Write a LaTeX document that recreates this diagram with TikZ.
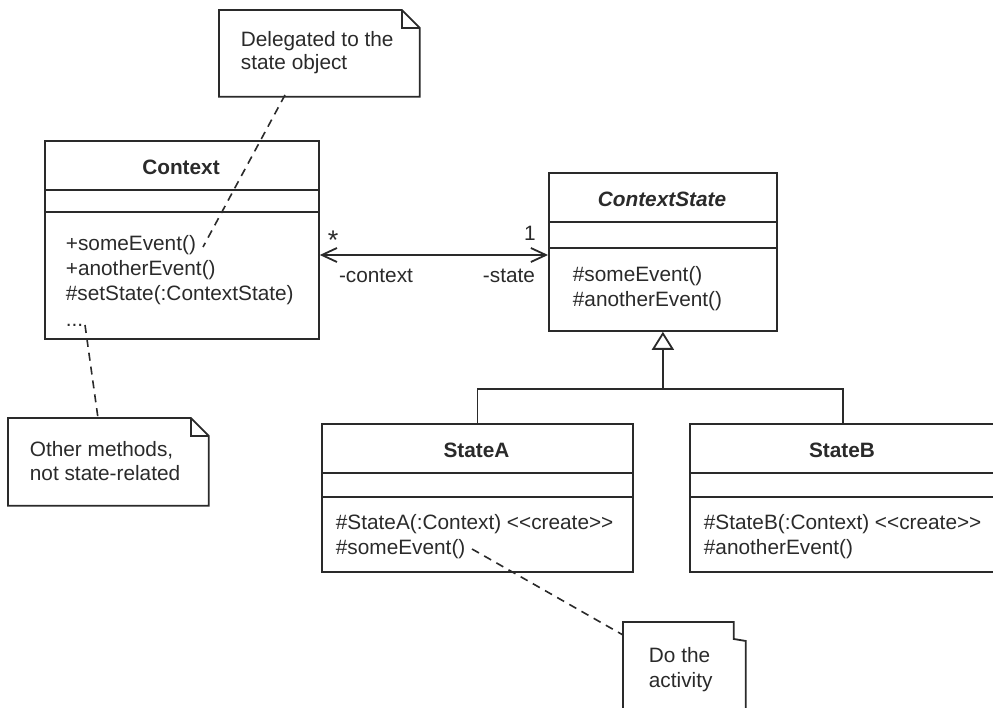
\documentclass[tikz,border=0pt]{standalone}
\usepackage{fontspec}
\setmainfont{Liberation Sans}
\usetikzlibrary{arrows.meta}
\definecolor{ink}{HTML}{2A2A2A}
\begin{document}
\begin{tikzpicture}[x=1pt,y=-1pt,color=ink,line width=1.8pt,
  box/.style={draw,line width=1.8pt,inner sep=0pt,anchor=north west},
  area/.style={inner sep=0pt,anchor=north west},
  txt/.style={inner sep=0pt,anchor=base west,font=\fontsize{20.8}{25}\selectfont},
  ctxt/.style={inner sep=0pt,anchor=base,font=\fontsize{20.8}{25}\selectfont},
  ttl/.style={inner sep=0pt,anchor=base,font=\fontsize{20.8}{25}\selectfont\bfseries},
  dsh/.style={line width=1.6pt,dash pattern=on 8pt off 6pt},
  barb/.style={{Straight Barb[length=15pt,width=14pt]}-{Straight Barb[length=15pt,width=14pt]}},
  inh/.style={-{Triangle[open,length=18pt,width=22pt]}}]
\useasboundingbox (0,0) rectangle (993,708);

% ---------- Context ----------
\node[box,minimum width=274pt,minimum height=198pt] (ctx) at (44,140) {};
\coordinate (y190) at (0,190); \coordinate (y212) at (0,212);
\draw (ctx.west |- y190) -- (ctx.east |- y190);
\draw (ctx.west |- y212) -- (ctx.east |- y212);
\node[ttl] (ctxname) at (181,175) {Context};
\node[txt] (c1) at (65,251) {+someEvent()};
\node[txt] (c2) at (65,276) {+anotherEvent()};
\node[txt] (c3) at (65,301) {\#setState(:ContextState)};
\node[txt] (c4) at (65,327) {...};

% ---------- ContextState ----------
\node[box,minimum width=228pt,minimum height=158pt] (cs) at (548,172) {};
\coordinate (y222) at (0,222); \coordinate (y248) at (0,248);
\draw (cs.west |- y222) -- (cs.east |- y222);
\draw (cs.west |- y248) -- (cs.east |- y248);
\node[ttl,font=\fontsize{20.8}{25}\selectfont\bfseries\itshape] (csname) at (662,207) {ContextState};
\node[txt] (s1) at (572,282) {\#someEvent()};
\node[txt] (s2) at (572,307) {\#anotherEvent()};

% ---------- association ----------
\coordinate (y255) at (0,255);
\draw[barb] (ctx.east |- y255) -- (cs.west |- y255);
\node[ctxt,font=\fontsize{27}{30}\selectfont] (mstar) at (333,250) {*};
\node[ctxt] (mone) at (530,241) {1};
\node[ctxt] (rctx) at (376,283) {-context};
\node[ctxt] (rstate) at (509,283) {-state};

% ---------- StateA ----------
\node[box,minimum width=311pt,minimum height=148pt] (sa) at (321,423) {};
\coordinate (y473) at (0,473); \coordinate (y497) at (0,497);
\draw (sa.west |- y473) -- (sa.east |- y473);
\draw (sa.west |- y497) -- (sa.east |- y497);
\node[ttl] (saname) at (476.5,457) {StateA};
\node[txt] (a1) at (335,529) {\#StateA(:Context) <{}<create>{}>};
\node[txt] (a2) at (335,554) {\#someEvent()};

% ---------- StateB ----------
\node[box,minimum width=306pt,minimum height=148pt] (sb) at (689,423) {};
\draw (sb.west |- y473) -- (sb.east |- y473);
\draw (sb.west |- y497) -- (sb.east |- y497);
\node[ttl] (sbname) at (842,457) {StateB};
\node[txt] (b1) at (703,529) {\#StateB(:Context) <{}<create>{}>};
\node[txt] (b2) at (703,554) {\#anotherEvent()};

% ---------- generalization ----------
\coordinate (y389) at (0,389);
\coordinate (junc) at (cs.south |- y389);
\draw (sa.north) |- (junc) -| (sb.north);
\draw[inh] (junc) -- (cs.south);

% ---------- note 1 ----------
\node[area,minimum width=199pt,minimum height=85pt] (n1) at (219,10) {};
\draw (n1.north west) -- ([xshift=-18pt]n1.north east) -- ([yshift=-18pt]n1.north east)
  -- (n1.south east) -- (n1.south west) -- cycle;
\draw ([xshift=-18pt]n1.north east) |- ([yshift=-18pt]n1.north east);
\node[txt] (n1a) at (240,47) {Delegated to the};
\node[txt] (n1b) at (240,70) {state object};
\coordinate (n1end) at (285,95);
\coordinate (c1end) at (203,247);
\draw[dsh] (n1end) -- (c1end);

% ---------- note 2 ----------
\node[area,minimum width=199pt,minimum height=86pt] (n2) at (8,418) {};
\draw (n2.north west) -- ([xshift=-18pt]n2.north east) -- ([yshift=-18pt]n2.north east)
  -- (n2.south east) -- (n2.south west) -- cycle;
\draw ([xshift=-18pt]n2.north east) |- ([yshift=-18pt]n2.north east);
\node[txt] (n2a) at (29,456) {Other methods,};
\node[txt] (n2b) at (29,480) {not state-related};
\coordinate (c4end) at (85,325);
\coordinate (n2end) at (98,418);
\draw[dsh] (c4end) -- (n2end);

% ---------- note 3 ----------
\node[area,minimum width=121pt,minimum height=92pt] (n3) at (623,622) {};
\draw (n3.south west) -- (n3.north west) -- ([xshift=-12pt]n3.north east)
  -- ([xshift=-12pt,yshift=-17pt]n3.north east) -- ([yshift=-19pt]n3.north east)
  -- (n3.south east);
\node[txt] (n3a) at (648,662) {Do the};
\node[txt] (n3b) at (648,687) {activity};
\coordinate (a2end) at (472,549);
\coordinate (n3end) at (623,635);
\draw[dsh] (a2end) -- (n3end);
\end{tikzpicture}
\end{document}
